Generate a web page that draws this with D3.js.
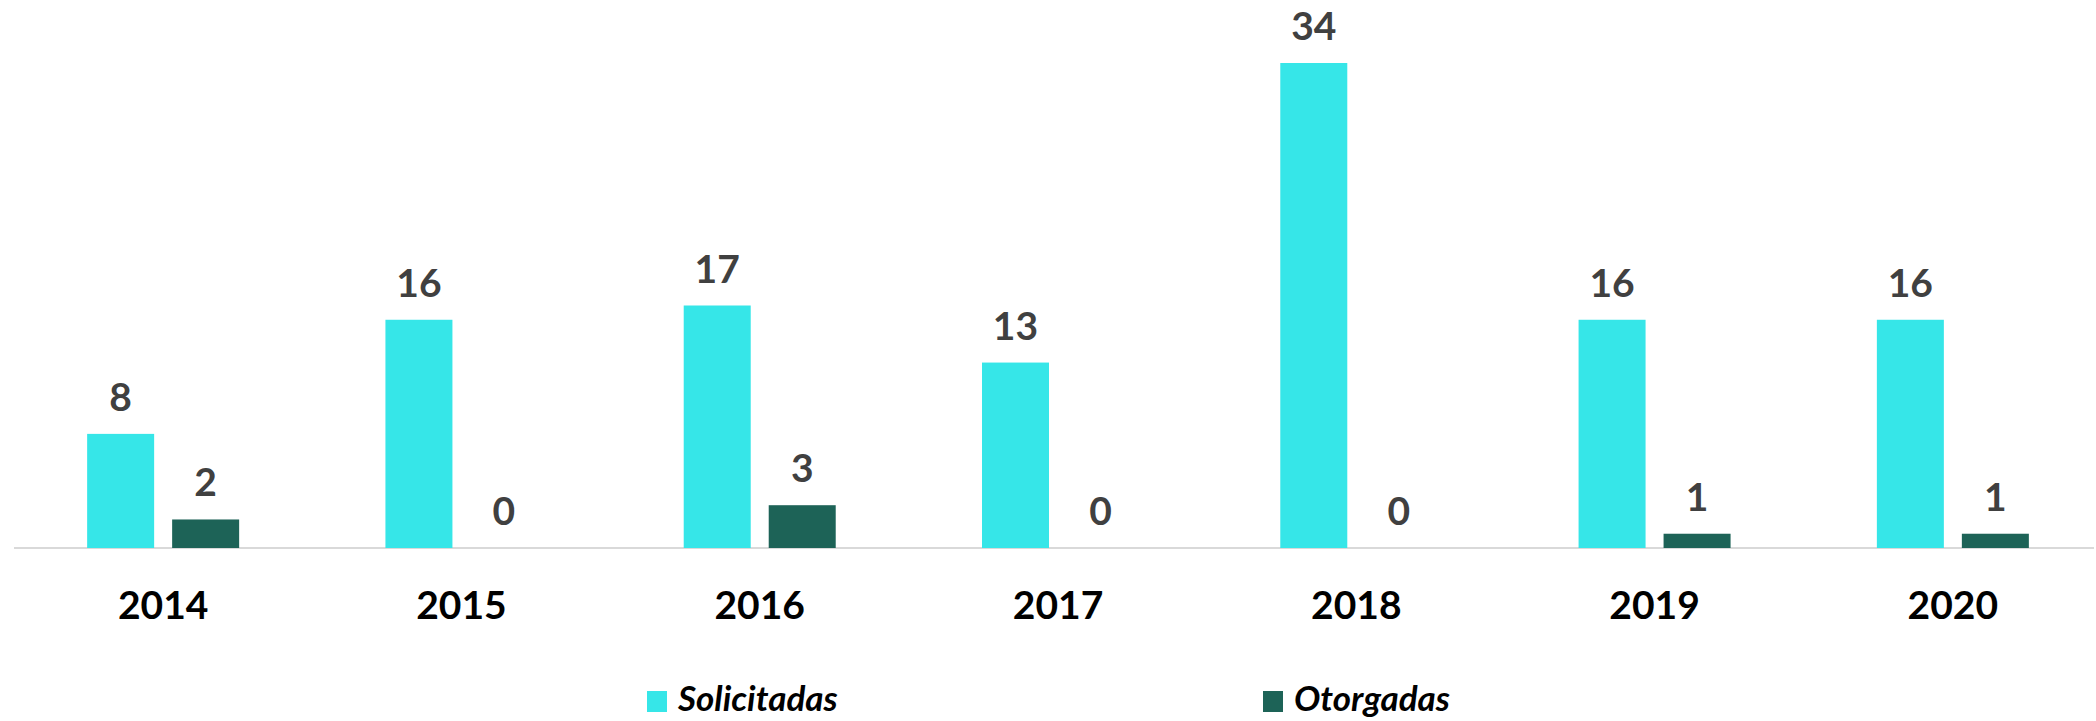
<!DOCTYPE html>
<html>
<head>
<meta charset="utf-8">
<title>Solicitadas vs Otorgadas</title>
<script src="https://d3js.org/d3.v7.min.js"></script>
<style>
  html, body { margin: 0; padding: 0; background: #fff; }
  svg text { font-family: Lato, "Open Sans", sans-serif; }
</style>
</head>
<body>
<div id="chart"></div>
<script>
// data
var years = ["2014", "2015", "2016", "2017", "2018", "2019", "2020"];
var seriesNames = ["Solicitadas", "Otorgadas"];
var solicitadas = [8, 16, 17, 13, 34, 16, 16];
var otorgadas = [2, 0, 3, 0, 0, 1, 1];
var colors = ["#36e6e8", "#1d6357"];

var width = 2096, height = 721;

var svg = d3.select("#chart")
  .append("svg")
  .attr("width", width)
  .attr("height", height);

var x0 = d3.scaleBand()
  .domain(years)
  .range([14, 2102]);

// two bars of 67px with an 18px gap, centered in each band
var x1 = d3.scaleBand()
  .domain(seriesNames)
  .range([x0.bandwidth() / 2 - 76, x0.bandwidth() / 2 + 76])
  .paddingInner(18 / 85);

var y = d3.scaleLinear()
  .domain([0, 34])
  .range([548, 63]);

var color = d3.scaleOrdinal().domain(seriesNames).range(colors);

var rows = years.map(function(yr, i) {
  return { year: yr, values: [
    { key: "Solicitadas", value: solicitadas[i] },
    { key: "Otorgadas", value: otorgadas[i] }
  ]};
});

// baseline
svg.append("line")
  .attr("x1", 14).attr("x2", 2094)
  .attr("y1", y(0)).attr("y2", y(0))
  .attr("stroke", "#d9d9d9")
  .attr("stroke-width", 2);

var groups = svg.selectAll("g.year")
  .data(rows)
  .enter()
  .append("g")
  .attr("class", "year")
  .attr("transform", function(d) { return "translate(" + x0(d.year) + ",0)"; });

groups.selectAll("rect")
  .data(function(d) { return d.values; })
  .enter()
  .append("rect")
  .attr("x", function(d) { return x1(d.key); })
  .attr("width", x1.bandwidth())
  .attr("y", function(d) { return y(d.value); })
  .attr("height", function(d) { return y(0) - y(d.value); })
  .attr("fill", function(d) { return color(d.key); });

groups.selectAll("text.val")
  .data(function(d) { return d.values; })
  .enter()
  .append("text")
  .attr("class", "val")
  .attr("x", function(d) { return x1(d.key) + x1.bandwidth() / 2; })
  .attr("y", function(d) { return y(d.value) - 23; })
  .attr("text-anchor", "middle")
  .attr("font-size", 39)
  .attr("font-weight", "bold")
  .attr("fill", "#404040")
  .text(function(d) { return d.value; });

// category labels via axis
var xAxis = svg.append("g")
  .attr("transform", "translate(0," + y(0) + ")")
  .call(d3.axisBottom(x0).tickSize(0).tickPadding(0));
xAxis.select(".domain").remove();
xAxis.selectAll("text")
  .attr("dy", null)
  .attr("y", 71)
  .attr("font-size", 39)
  .attr("font-weight", "bold")
  .attr("fill", "#000")
  .style("font-family", "Lato, sans-serif");

// legend
var legendX = [647, 1263];
var legend = svg.selectAll("g.legend")
  .data(seriesNames)
  .enter()
  .append("g")
  .attr("class", "legend")
  .attr("transform", function(d, i) { return "translate(" + legendX[i] + ",0)"; });

legend.append("rect")
  .attr("x", 0).attr("y", 691)
  .attr("width", 20).attr("height", 21)
  .attr("fill", function(d) { return color(d); });

legend.append("text")
  .attr("x", 31).attr("y", 711)
  .attr("font-size", 35)
  .attr("font-weight", "bold")
  .attr("font-style", "italic")
  .attr("fill", "#000")
  .text(function(d) { return d; });
</script>
</body>
</html>
